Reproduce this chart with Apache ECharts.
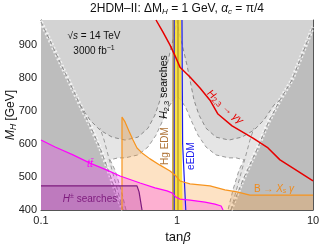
<!DOCTYPE html>
<html><head><meta charset="utf-8">
<script src="https://cdn.jsdelivr.net/npm/echarts@6/dist/echarts.min.js"></script>
<style>html,body{margin:0;padding:0;background:#fff}#c{width:332px;height:247px}</style>
</head><body><div id="c"></div>
<script>
// ---- axis ticks ----
const xTicks = [0.1, 1, 10];
const yTicks = [400, 500, 600, 700, 800, 900];
const yMin = 400, yMax = 976, xMin = 0.1, xMax = 10;

// ---- exclusion regions (tanβ, M_H) ----
const ovLeft = [[0.1,970],[0.116,915],[0.138,848],[0.163,785],[0.194,718],[0.229,658],[0.272,588],[0.322,506],[0.368,436],[0.401,400]];
const ovRight = [[2.49,400],[3.05,491],[3.94,591],[4.67,664],[5.71,733],[7.00,794],[8.29,870],[10,955]];
const bowlLeftArc = [[0.194,718],[0.229,673],[0.272,642],[0.333,621],[0.415,612],[0.517,621],[0.612,648],[0.689,688],[0.750,733],[0.802,794],[0.844,839],[0.903,891],[0.967,939],[1,976]];
const bowlRightArc = [[1,976],[1.034,939],[1.107,891],[1.184,839],[1.246,794],[1.334,733],[1.451,688],[1.634,648],[1.934,621],[2.41,612],[3.00,621],[3.68,642],[4.36,673],[5.16,718],[5.71,733]];
const whiteZone = [[0.422,400],[0.388,461],[0.350,521],[0.322,552],[0.368,558],[0.415,558],[0.517,567],[0.612,591],[0.701,627],[0.789,673],[0.859,709],[0.935,733],[1,745],[1.070,733],[1.165,709],[1.267,673],[1.427,627],[1.634,591],[1.934,567],[2.41,558],[2.72,558],[3.11,552],[2.86,521],[2.58,461],[2.37,400]];
const fanLeft = [[0.401,400],[0.333,521],[0.291,612],[0.272,648]];
const fanRight = [[2.49,400],[3.00,521],[3.44,612],[3.68,648]];

// ---- constraint curves ----
const gammaGamma = [[0.701,976],[0.789,939],[0.889,900],[0.983,861],[1.052,833],[1.246,803],[1.476,770],[1.748,733],[2.0,691],[2.54,655],[3.62,618],[4.67,588],[5.72,552],[7.13,527],[10,488]];
const ttbar = [[0.1,612],[0.127,591],[0.172,567],[0.229,542],[0.306,521],[0.381,503],[0.535,482],[0.689,467],[0.844,458],[0.919,452],[0.983,439],[1.052,433],[1.246,430],[1.606,424],[1.902,418],[2.11,412],[2.18,400]];
const chargedHiggs = [[0.1,473],[0.508,473],[0.526,455],[0.553,400]];
const orangeEdge = [[0.394,400],[0.394,682],[0.415,667],[0.444,639],[0.475,612],[0.508,588],[0.553,573],[0.633,555],[0.750,536],[0.889,518],[0.983,503],[1.052,488],[1.246,479],[1.476,476],[1.748,473],[2.25,461],[2.76,455],[3.44,445],[10,445]];
const yellowBand = [[0.92,400],[0.92,560],[0.94,976],[1.075,976],[1.085,560],[1.10,400]];
const eedmLeft = [[0.955,400],[0.955,976]];
const eedmRight = [[1.088,976],[1.10,600],[1.16,400]];
const hgLine = [[0.935,400],[0.935,976]];
const midLine = [[1.017,400],[1.017,976]];

const chart = echarts.init(document.getElementById('c'));

function poly(pts, fill, z) {
  return { type:'custom', coordinateSystem:'cartesian2d', clip:true, silent:true, z:z,
    data:[[1,500]], encode:{x:0,y:1},
    renderItem:(p, api) => ({ type:'polygon', shape:{ points: pts.map(q => api.coord(q)) }, style:{ fill: fill } }) };
}
function line(pts, color, width, type, z) {
  return { type:'line', data:pts, symbol:'none', silent:true, z:z, clip:true,
    lineStyle:{ color:color, width:width, type:type || 'solid' } };
}
const topEdge = [[10,976],[0.1,976]];
const plotRect = [[0.1,400],[10,400],[10,976],[0.1,976]];
const ovPoly = ovLeft.concat(ovRight, topEdge);
const bowlL = ovLeft.slice(0,5).concat(bowlLeftArc.slice(1), [[0.1,976]]);
const bowlR = bowlRightArc.concat(ovRight.slice(5), [[10,976]]);
const orangePoly = orangeEdge.concat([[10,400]]);
const ttPoly = ttbar.concat([[0.1,400]]);
const hPoly = chargedHiggs.concat([[0.1,400]]);

const dash = [4,3];
const series = [
  poly(plotRect, '#bdbdbd', 1),
  poly(ovPoly, '#e5e5e5', 2),
  poly(whiteZone, '#ffffff', 3),
  poly(bowlL, '#d3d3d3', 4),
  poly(bowlR, '#d3d3d3', 4),
  line(ovLeft, 'rgba(250,250,250,0.8)', 4, [2,2], 5),
  line(ovRight, 'rgba(250,250,250,0.8)', 4, [2,2], 5),
  line(ovLeft, '#8a8a8a', 1, dash, 6),
  line(ovRight, '#8a8a8a', 1, dash, 6),
  line(bowlLeftArc, '#8a8a8a', 1, dash, 6),
  line(bowlRightArc, '#8a8a8a', 1, dash, 6),
  line(whiteZone, '#9a9a9a', 1, dash, 6),
  line(fanLeft, '#9a9a9a', 1, dash, 6),
  line(fanRight, '#9a9a9a', 1, dash, 6),
  poly(orangePoly, 'rgba(250,160,60,0.3)', 7),
  poly(ttPoly, 'rgba(255,0,255,0.22)', 8),
  poly(hPoly, 'rgba(128,0,128,0.17)', 9),
  poly(yellowBand, 'rgba(250,222,40,0.85)', 10),
  line(hgLine, '#9c7a3c', 1, 'solid', 11),
  line(midLine, '#8a6a20', 0.8, 'solid', 11),
  line(eedmLeft, '#1a1aee', 1, 'solid', 12),
  line(eedmRight, '#1a1aee', 1.2, 'solid', 12),
  line(orangeEdge, '#f7941d', 1.2, 'solid', 13),
  line(ttbar, '#ff00ff', 1.2, 'solid', 14),
  line(chargedHiggs, '#7d1a7d', 1.2, 'solid', 15),
  line(gammaGamma, '#e60000', 1.5, 'solid', 16)
];

const axCol = '#555';
const F = 'Liberation Sans, Arial, sans-serif';
const option = {
  animation:false,
  grid:{ left:41, right:19, top:20, bottom:37 },
  xAxis:[
    { type:'log', logBase:10, min:xMin, max:xMax, position:'bottom',
      axisLine:{ show:true, lineStyle:{ color:axCol } },
      axisTick:{ show:true, inside:true, length:4, lineStyle:{ color:axCol } },
      axisLabel:{ fontSize:11, color:'#222', fontFamily:F, margin:5,
        formatter: v => xTicks.indexOf(+v) >= 0 ? String(+v) : '' },
      splitLine:{ show:false } },
    { type:'log', logBase:10, min:xMin, max:xMax, position:'top',
      axisLine:{ show:true, lineStyle:{ color:axCol } },
      axisTick:{ show:true, inside:true, length:4, lineStyle:{ color:axCol } },
      axisLabel:{ show:false }, splitLine:{ show:false } }
  ],
  yAxis:[
    { type:'value', min:yMin, max:yMax, interval:100, position:'left',
      axisLine:{ show:true, lineStyle:{ color:axCol } },
      axisTick:{ show:true, inside:true, length:4, lineStyle:{ color:axCol } },
      axisLabel:{ fontSize:11, color:'#222', fontFamily:F, margin:4, showMaxLabel:false,
        formatter: v => yTicks.indexOf(+v) >= 0 ? String(v) : '' },
      splitLine:{ show:false } },
    { type:'value', min:yMin, max:yMax, interval:100, position:'right',
      axisLine:{ show:true, lineStyle:{ color:axCol } },
      axisTick:{ show:true, inside:true, length:4, lineStyle:{ color:axCol } },
      axisLabel:{ show:false }, splitLine:{ show:false } }
  ],
  series: series,
  graphic:[
    { type:'text', x:177, y:9, z:100, style:{ text:'2HDM–II: ΔM{s|H} = 1 GeV, {i|α}{s|c} = π/4', fill:'#111', font:'12px '+F, textAlign:'center', textVerticalAlign:'middle',
      rich:{ s:{ fontSize:8, fontStyle:'italic', verticalAlign:'bottom', lineHeight:14, fontFamily:F }, i:{ fontSize:12, fontStyle:'italic', fontFamily:F } } } },
    { type:'text', x:11, y:115, rotation:Math.PI/2, z:100, style:{ text:'{i|M}{s|H} [GeV]', fill:'#111', font:'12px '+F, textAlign:'center', textVerticalAlign:'middle',
      rich:{ i:{ fontSize:12, fontStyle:'italic', fontFamily:F }, s:{ fontSize:8.5, fontStyle:'italic', verticalAlign:'bottom', lineHeight:15, fontFamily:F } } } },
    { type:'text', x:178, y:237, z:100, style:{ text:'tan{i|β}', fill:'#111', font:'13px '+F, textAlign:'center', textVerticalAlign:'middle',
      rich:{ i:{ fontSize:13, fontStyle:'italic', fontFamily:F } } } },
    { type:'text', x:94, y:36, z:100, style:{ text:'√{i|s} = 14 TeV', fill:'#111', font:'10px '+F, textAlign:'center', textVerticalAlign:'middle',
      rich:{ i:{ fontSize:10, fontStyle:'italic', fontFamily:F } } } },
    { type:'text', x:94, y:51, z:100, style:{ text:'3000 fb{s|−1}', fill:'#111', font:'10px '+F, textAlign:'center', textVerticalAlign:'middle',
      rich:{ s:{ fontSize:7, verticalAlign:'top', lineHeight:12, fontFamily:F } } } },
    { type:'text', x:164, y:87, rotation:Math.PI/2, z:100, style:{ text:'{i|H}{s|2,3} searches', fill:'#111', font:'10.5px '+F, textAlign:'center', textVerticalAlign:'middle',
      rich:{ i:{ fontSize:10.5, fontStyle:'italic', fontFamily:F }, s:{ fontSize:7.5, verticalAlign:'bottom', lineHeight:13, fontFamily:F } } } },
    { type:'text', x:165, y:146, rotation:Math.PI/2, z:100, style:{ text:'Hg EDM', fill:'#b0753a', font:'10px '+F, textAlign:'center', textVerticalAlign:'middle' } },
    { type:'text', x:191, y:156, rotation:Math.PI/2, z:100, style:{ text:'eEDM', fill:'#1a1aee', font:'10px '+F, textAlign:'center', textVerticalAlign:'middle' } },
    { type:'text', x:225, y:107, rotation:-0.74, z:100, style:{ text:'{i|H}{s|2,3} → {i|γγ}', fill:'#e60000', font:'10.5px '+F, textAlign:'center', textVerticalAlign:'middle',
      rich:{ i:{ fontSize:10.5, fontStyle:'italic', fontFamily:F }, s:{ fontSize:7.5, verticalAlign:'bottom', lineHeight:13, fontFamily:F } } } },
    { type:'text', x:90, y:164, z:100, style:{ text:'tt̄', fill:'#ff00ff', font:'italic 10.5px '+F, textAlign:'center', textVerticalAlign:'middle' } },
    { type:'text', x:90, y:199, z:100, style:{ text:'{i|H}{p|±} searches', fill:'#7d1a7d', font:'10px '+F, textAlign:'center', textVerticalAlign:'middle',
      rich:{ i:{ fontSize:10, fontStyle:'italic', fontFamily:F }, p:{ fontSize:7, verticalAlign:'top', lineHeight:12, fontFamily:F } } } },
    { type:'text', x:274, y:189, z:100, style:{ text:'B → {i|X}{s|s} {i|γ}', fill:'#f08a1a', font:'10px '+F, textAlign:'center', textVerticalAlign:'middle',
      rich:{ i:{ fontSize:10, fontStyle:'italic', fontFamily:F }, s:{ fontSize:7, fontStyle:'italic', verticalAlign:'bottom', lineHeight:12, fontFamily:F } } } }
  ]
};
chart.setOption(option);
</script></body></html>
